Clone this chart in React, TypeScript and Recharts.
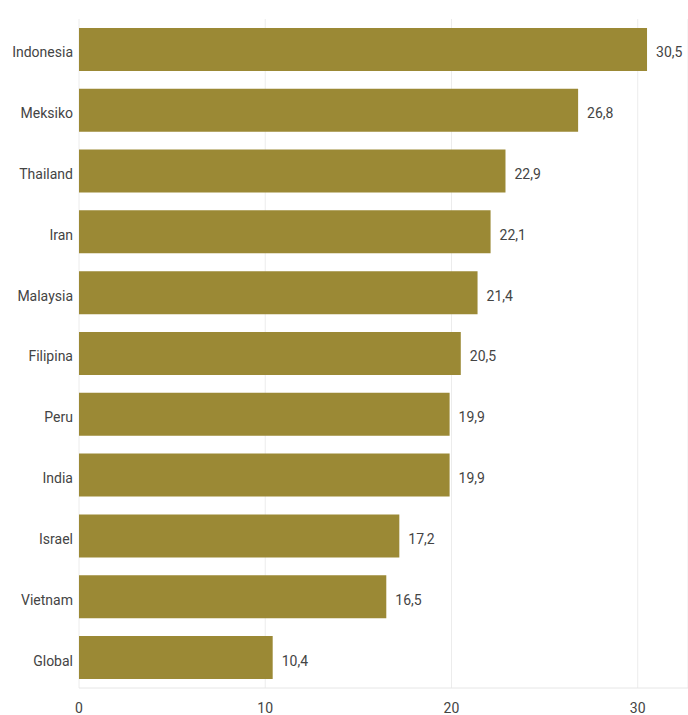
import React from "react";
import { BarChart, Bar, XAxis, YAxis, CartesianGrid, LabelList } from "recharts";

const countries = ["Indonesia", "Meksiko", "Thailand", "Iran", "Malaysia", "Filipina", "Peru", "India", "Israel", "Vietnam", "Global"];
const values = [30.5, 26.8, 22.9, 22.1, 21.4, 20.5, 19.9, 19.9, 17.2, 16.5, 10.4];
const xTicks = [0, 10, 20, 30];

const data = countries.map((c, i) => ({ name: c, value: values[i] }));

const fmt = (v: number) => v.toFixed(1).replace(".", ",");

export default function App() {
  return (
    <div style={{ position: "absolute", left: 0, top: 0, background: "#fff" }}>
      <BarChart
        width={688}
        height={715}
        data={data}
        layout="vertical"
        margin={{ top: 19, right: 0, bottom: 0, left: 0 }}
        barCategoryGap="14.6%"
      >
        <CartesianGrid horizontal={false} stroke="#ececec" />
        <XAxis
          type="number"
          domain={[0, 32.7]}
          ticks={xTicks}
          allowDataOverflow
          height={27}
          tickSize={0}
          tickMargin={15}
          axisLine={{ stroke: "#e6e6e6" }}
          tick={{ fill: "#444", fontSize: 14, fontFamily: "Roboto" }}
        />
        <YAxis
          type="category"
          dataKey="name"
          width={79}
          tickSize={0}
          tickMargin={6}
          axisLine={false}
          tick={{ fill: "#444", fontSize: 14, fontFamily: "Roboto", dy: 3 }}
        />
        <Bar dataKey="value" fill="#9b8935" isAnimationActive={false}>
          <LabelList
            dataKey="value"
            position="right"
            offset={9}
            dy={3}
            formatter={(v: number) => fmt(v)}
            style={{ fill: "#444", fontSize: 14, fontFamily: "Roboto" }}
          />
        </Bar>
      </BarChart>
    </div>
  );
}
